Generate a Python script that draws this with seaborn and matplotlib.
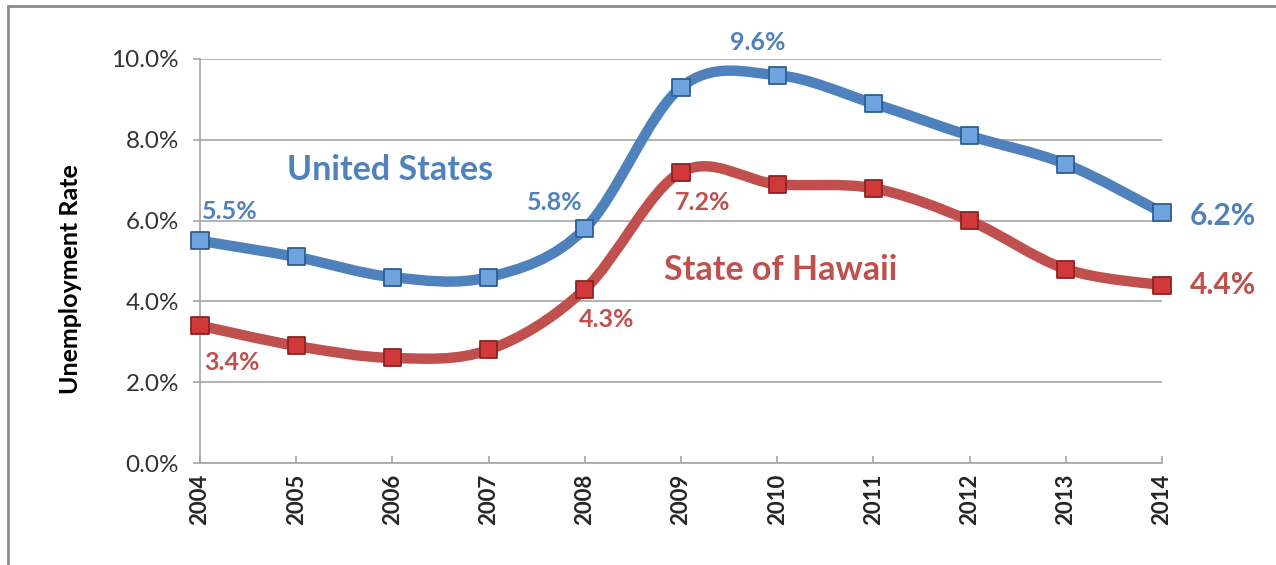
import numpy as np
import pandas as pd
import matplotlib
matplotlib.use("Agg")
from matplotlib import pyplot as plt
from matplotlib.path import Path
from matplotlib.patches import PathPatch, Rectangle
from matplotlib.ticker import PercentFormatter, MultipleLocator
import seaborn as sns

years = [2004, 2005, 2006, 2007, 2008, 2009, 2010, 2011, 2012, 2013, 2014]
us_rate = [5.5, 5.1, 4.6, 4.6, 5.8, 9.3, 9.6, 8.9, 8.1, 7.4, 6.2]
hi_rate = [3.4, 2.9, 2.6, 2.8, 4.3, 7.2, 6.9, 6.8, 6.0, 4.8, 4.4]

# which points get a value label, and where (offset in pixels from the point)
us_labeled = {2004: (2, 29, "left"), 2008: (-30, 26, "center"),
              2010: (-19, 33, "center"), 2014: (28, -3, "left")}
hi_labeled = {2004: (4, -37, "left"), 2008: (22, -30, "center"),
              2009: (22, -30, "center"), 2014: (28, 0, "left")}

blue = "#4F81BD"
red = "#C0504D"

sns.set_style("white")
plt.rcParams["font.family"] = ["Lato", "DejaVu Sans"]

df = pd.DataFrame({"Year": years * 2,
                   "Rate": us_rate + hi_rate,
                   "Area": ["United States"] * len(years) + ["State of Hawaii"] * len(years)})


def smooth_path(x, y):
    # excel-style smoothed line: cubic bezier through each point
    x = np.asarray(x, float)
    y = np.asarray(y, float)
    px = np.r_[x[0], x, x[-1]]
    py = np.r_[y[0], y, y[-1]]
    verts = [(x[0], y[0])]
    codes = [Path.MOVETO]
    for i in range(len(x) - 1):
        j = i + 1
        c1 = (px[j] + (px[j + 1] - px[j - 1]) / 6, py[j] + (py[j + 1] - py[j - 1]) / 6)
        c2 = (px[j + 1] - (px[j + 2] - px[j]) / 6, py[j + 1] - (py[j + 2] - py[j]) / 6)
        verts += [c1, c2, (x[i + 1], y[i + 1])]
        codes += [Path.CURVE4] * 3
    return Path(verts, codes)


fig = plt.figure(figsize=(12.76, 5.65), dpi=100)
ax = fig.add_axes([200 / 1276, 1 - 463 / 565, 962 / 1276, 404 / 565])

for vals, col in [(hi_rate, red), (us_rate, blue)]:
    ax.add_patch(PathPatch(smooth_path(years, vals), fill=False, ec=col, lw=7.5,
                           capstyle="round", joinstyle="round", zorder=3))

sns.scatterplot(data=df, x="Year", y="Rate", hue="Area", ax=ax, marker="s", s=150,
                palette={"United States": "#6FA3E0", "State of Hawaii": "#D0383A"},
                edgecolor=None, linewidth=0, legend=False, zorder=4, clip_on=False)
# darker borders of the markers
ax.scatter(years, us_rate, marker="s", s=150, facecolors="none", edgecolors="#2E5D93",
           linewidths=1.3, zorder=5, clip_on=False)
ax.scatter(years, hi_rate, marker="s", s=150, facecolors="none", edgecolors="#8A2424",
           linewidths=1.3, zorder=5, clip_on=False)

for vals, labeled, col in [(us_rate, us_labeled, blue), (hi_rate, hi_labeled, red)]:
    for yr, (dx, dy, ha) in labeled.items():
        v = vals[years.index(yr)]
        big = yr == years[-1]
        ax.annotate(f"{v:.1f}%", (yr, v), xytext=(dx, dy), textcoords="offset pixels",
                    ha=ha, va="center", color=col, fontweight="bold",
                    fontsize=21.5 if big else 18, annotation_clip=False, zorder=6)

ax.text(2005.98, 7.25, "United States", color=blue, fontsize=24.5, fontweight="bold",
        ha="center", va="center")
ax.text(2010.04, 4.78, "State of Hawaii", color=red, fontsize=24.5, fontweight="bold",
        ha="center", va="center")

ax.set_xlim(2004, 2014)
ax.set_ylim(0, 10)
ax.yaxis.set_major_locator(MultipleLocator(2))
ax.yaxis.set_major_formatter(PercentFormatter(xmax=100, decimals=1))
ax.set_xticks(years)
ax.set_xticklabels([str(y) for y in years], rotation=90, fontweight="bold", fontsize=16)
ax.grid(axis="y", color="#A6A6A6", lw=1.2)
ax.set_axisbelow(True)
for s in ["top", "right"]:
    ax.spines[s].set_visible(False)
for s in ["left", "bottom"]:
    ax.spines[s].set_color("#A6A6A6")
    ax.spines[s].set_linewidth(1.2)
ax.tick_params(axis="y", direction="out", length=5, width=1.2, color="#A6A6A6",
               labelsize=17.5, labelcolor="#333333", pad=10, left=True)
ax.tick_params(axis="x", direction="in", length=5, width=1.2, color="#A6A6A6",
               pad=8, bottom=True)
ax.set_xlabel("")
ax.set_ylabel("Unemployment Rate", fontsize=18, fontweight="bold", color="black")
ax.yaxis.set_label_coords(-118 / 962, 0.455)

fig.patches.append(Rectangle((8 / 1276, -0.1), 1.2, 1.1 - 6 / 565, transform=fig.transFigure,
                             fill=False, ec="#8C8C8C", lw=2))

fig.savefig("out.png", dpi=100)
